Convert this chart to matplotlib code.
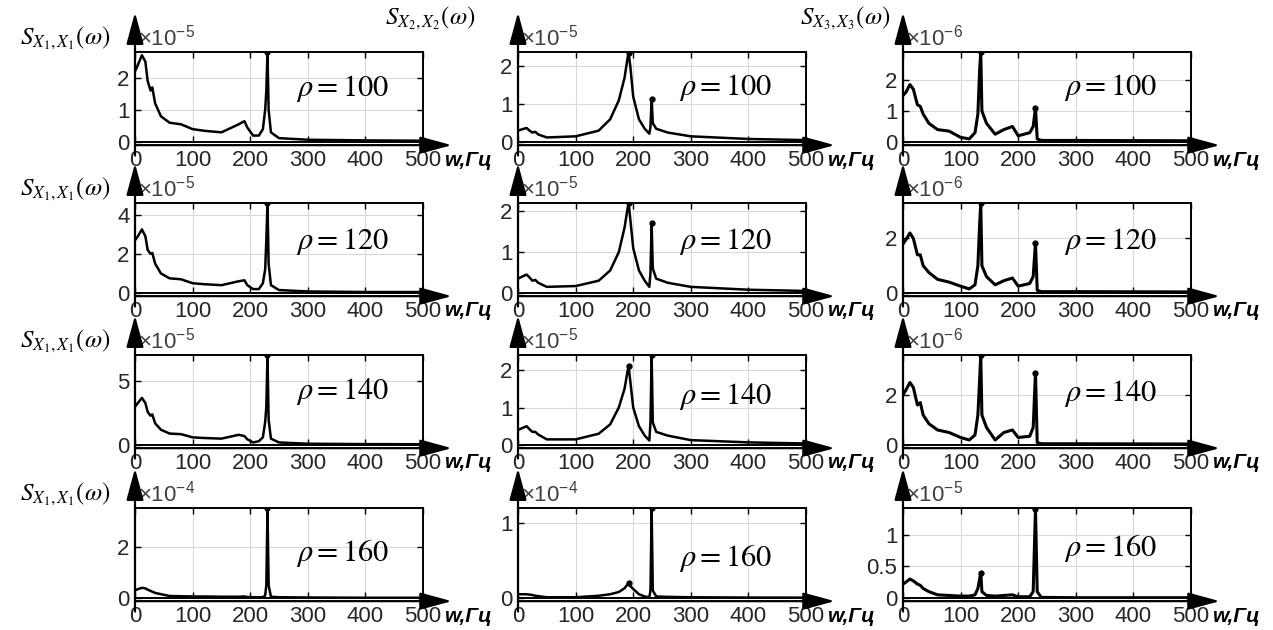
import numpy as np
import matplotlib.pyplot as plt

plt.rcParams['font.family'] = ['Liberation Sans', 'DejaVu Sans']
plt.rcParams['mathtext.fontset'] = 'stix'

# -------- data (values in units of 10^exp) --------
rho_values = [100, 120, 140, 160]
x_ticks = [0, 100, 200, 300, 400, 500]

# column 1 : S_X1,X1
f_x1 = [0, 5, 12, 18, 22, 27, 30, 35, 45, 60, 80, 100, 120, 150, 180, 190, 195, 205, 215,
        222, 226, 228, 230, 232, 236, 250, 300, 400, 500]
s_x1_100 = [2.2, 2.4, 2.7, 2.5, 1.9, 1.6, 1.7, 1.2, 0.8, 0.6, 0.55, 0.4, 0.35, 0.3, 0.55, 0.65, 0.45,
            0.2, 0.2, 0.4, 1.0, 1.6, 2.8, 1.0, 0.3, 0.12, 0.07, 0.05, 0.04]
s_x1_120 = [2.7, 2.9, 3.25, 2.9, 2.2, 2.0, 2.05, 1.5, 1.0, 0.75, 0.7, 0.5, 0.45, 0.4, 0.6, 0.65, 0.4,
            0.2, 0.2, 0.5, 1.2, 2.7, 4.6, 1.5, 0.4, 0.15, 0.08, 0.05, 0.05]
s_x1_140 = [3.0, 3.3, 3.7, 3.3, 2.6, 2.3, 2.4, 1.7, 1.2, 0.9, 0.85, 0.6, 0.55, 0.5, 0.8, 0.7, 0.45,
            0.2, 0.3, 0.6, 1.8, 3.0, 7.05, 2.0, 0.5, 0.2, 0.1, 0.07, 0.06]
s_x1_160 = [0.3, 0.35, 0.4, 0.38, 0.33, 0.28, 0.25, 0.2, 0.15, 0.08, 0.07, 0.06, 0.06, 0.05, 0.05,
            0.06, 0.04, 0.03, 0.03, 0.03, 0.1, 0.5, 3.55, 0.5, 0.05, 0.03, 0.02, 0.01, 0.01]

# column 2 : S_X2,X2
f_x2 = [0, 10, 15, 20, 25, 30, 35, 50, 100, 140, 160, 175, 185, 190, 192, 195, 200, 210, 220,
        228, 230, 232, 234, 240, 260, 300, 400, 500]
s_x2_100 = [0.3, 0.35, 0.37, 0.3, 0.25, 0.27, 0.2, 0.12, 0.15, 0.3, 0.6, 1.1, 1.7, 2.2, 2.35, 2.0,
            1.2, 0.6, 0.35, 0.22, 0.4, 1.15, 0.5, 0.35, 0.25, 0.15, 0.08, 0.05]
s_x2_120 = [0.35, 0.42, 0.45, 0.38, 0.3, 0.32, 0.25, 0.15, 0.17, 0.3, 0.55, 1.0, 1.6, 2.05, 2.2, 1.8,
            1.1, 0.55, 0.3, 0.15, 0.5, 1.7, 0.6, 0.35, 0.25, 0.15, 0.08, 0.05]
s_x2_140 = [0.4, 0.47, 0.5, 0.42, 0.35, 0.35, 0.28, 0.15, 0.15, 0.3, 0.55, 1.0, 1.5, 1.95, 2.1, 1.7,
            1.0, 0.5, 0.25, 0.12, 0.6, 2.4, 0.6, 0.35, 0.25, 0.13, 0.07, 0.04]
s_x2_160 = [0.05, 0.05, 0.05, 0.045, 0.04, 0.03, 0.025, 0.01, 0.01, 0.03, 0.05, 0.08, 0.13, 0.18, 0.2,
            0.16, 0.12, 0.05, 0.02, 0.01, 0.1, 1.2, 0.1, 0.02, 0.015, 0.01, 0.006, 0.005]

# column 3 : S_X3,X3
f_x3 = [0, 5, 12, 18, 25, 30, 35, 45, 60, 80, 100, 115, 125, 130, 133, 135, 137, 145, 160, 175,
        190, 200, 220, 226, 230, 233, 240, 300, 500]
s_x3_100 = [1.5, 1.6, 1.85, 1.7, 1.2, 1.15, 0.9, 0.6, 0.4, 0.35, 0.15, 0.1, 0.3, 0.9, 2.3, 2.9, 1.0,
            0.6, 0.25, 0.4, 0.5, 0.2, 0.3, 0.5, 1.1, 0.1, 0.05, 0.05, 0.04]
s_x3_120 = [1.8, 1.95, 2.2, 2.0, 1.4, 1.4, 1.0, 0.75, 0.5, 0.4, 0.25, 0.15, 0.3, 1.0, 2.5, 3.3, 1.0,
            0.6, 0.3, 0.45, 0.55, 0.25, 0.35, 0.6, 1.85, 0.1, 0.05, 0.05, 0.04]
s_x3_140 = [2.0, 2.2, 2.5, 2.3, 1.6, 1.7, 1.2, 0.85, 0.6, 0.5, 0.3, 0.2, 0.4, 1.2, 2.6, 3.6, 1.2,
            0.7, 0.2, 0.5, 0.6, 0.3, 0.35, 0.7, 2.9, 0.1, 0.05, 0.05, 0.04]
s_x3_160 = [0.22, 0.25, 0.3, 0.27, 0.22, 0.2, 0.15, 0.1, 0.05, 0.04, 0.03, 0.03, 0.05, 0.15, 0.3, 0.4,
            0.1, 0.04, 0.03, 0.04, 0.05, 0.02, 0.02, 0.1, 1.4, 0.1, 0.01, 0.005, 0.005]

freqs = [f_x1, f_x2, f_x3]
spectra = [[s_x1_100, s_x2_100, s_x3_100],
           [s_x1_120, s_x2_120, s_x3_120],
           [s_x1_140, s_x2_140, s_x3_140],
           [s_x1_160, s_x2_160, s_x3_160]]
peak_freqs = [[230], [192, 232], [135, 230]]

exponents = [[-5, -5, -6], [-5, -5, -6], [-5, -5, -6], [-4, -4, -5]]
y_tops = [[2.8, 2.38, 2.9], [4.6, 2.2, 3.3], [7.07, 2.4, 3.6], [3.55, 1.2, 1.42]]
y_ticks = [[[0, 1, 2], [0, 1, 2], [0, 1, 2]],
           [[0, 2, 4], [0, 1, 2], [0, 2]],
           [[0, 5], [0, 1, 2], [0, 2]],
           [[0, 2], [0, 1], [0, 0.5, 1]]]
y_ticklabels = [[['0', '1', '2'], ['0', '1', '2'], ['0', '1', '2']],
                [['0', '2', '4'], ['0', '1', '2'], ['0', '2']],
                [['0', '5'], ['0', '1', '2'], ['0', '2']],
                [['0', '2'], ['0', '1'], ['0', '0.5', '1']]]
rho_y = [[0.6, 0.61, 0.61], [0.57, 0.57, 0.57], [0.6, 0.54, 0.57], [0.5, 0.44, 0.55]]

# -------- layout (pixels of a 1273x630 figure) --------
W, H = 1273, 630
col_left = [135, 518, 903]
row_top = [52, 203, 355, 508]
ax_w, ax_h = 288, 90

fig = plt.figure(figsize=(W / 100, H / 100), dpi=100)

for i in range(4):
    for j in range(3):
        ax = fig.add_axes([col_left[j] / W, 1 - (row_top[i] + ax_h) / H, ax_w / W, ax_h / H])
        f = freqs[j]
        s = spectra[i][j]
        ax.plot(f, s, color='black', lw=1.8 if j < 2 else 2.2, solid_joinstyle='round')
        pk_s = [s[f.index(p)] for p in peak_freqs[j]]
        ax.plot(peak_freqs[j], pk_s, 'o', color='black', ms=3.5)

        ax.set_xlim(0, 500)
        ax.set_ylim(0, y_tops[i][j])
        ax.set_xticks(x_ticks)
        ax.set_xticklabels([str(t) for t in x_ticks])
        ax.set_yticks(y_ticks[i][j])
        ax.set_yticklabels(y_ticklabels[i][j])
        ax.tick_params(direction='in', top=True, right=True, length=4, width=1,
                       labelsize=16, colors='black', labelcolor='#262626')
        ax.tick_params(axis='x', pad=6)
        ax.tick_params(axis='y', pad=4)
        ax.grid(True, color='#d9d9d9', lw=0.8)
        for sp in ax.spines.values():
            sp.set_linewidth(1.4)

        # offset text (MATLAB style)
        ax.text(0.01, 1.02, r'$\mathregular{\times10^{%d}}$' % exponents[i][j],
                transform=ax.transAxes, fontsize=16, color='#404040', va='bottom', ha='left')

        # rho label
        ax.text(0.72, rho_y[i][j], r'$\rho = %d$' % rho_values[i], transform=ax.transAxes,
                fontsize=22, ha='center', va='center')

        # axis arrows
        arrow = dict(arrowstyle='-|>,head_length=1.4,head_width=0.38', color='black',
                     lw=1.6, mutation_scale=14, shrinkA=0, shrinkB=0)
        ax.annotate('', xy=(0, 1.44), xytext=(0, -0.15), xycoords='axes fraction',
                    textcoords='axes fraction', arrowprops=arrow, annotation_clip=False)
        ax.annotate('', xy=(1.1, -0.035), xytext=(0, -0.035), xycoords='axes fraction',
                    textcoords='axes fraction', arrowprops=arrow, annotation_clip=False)

        # frequency label
        ax.text(1.075, -0.2, 'w,Гц', transform=ax.transAxes, fontsize=15,
                fontweight='bold', fontstyle='italic', ha='left', va='center')

# spectral density labels
for i in range(4):
    fig.text(65 / W, 1 - (row_top[i] - 14) / H, r'$S_{X_1,X_1}(\omega)$', fontsize=18,
             ha='center', va='center')
fig.text(430 / W, 1 - 18 / H, r'$S_{X_2,X_2}(\omega)$', fontsize=18, ha='center', va='center')
fig.text(845 / W, 1 - 18 / H, r'$S_{X_3,X_3}(\omega)$', fontsize=18, ha='center', va='center')

fig.savefig('out.png', dpi=100)
